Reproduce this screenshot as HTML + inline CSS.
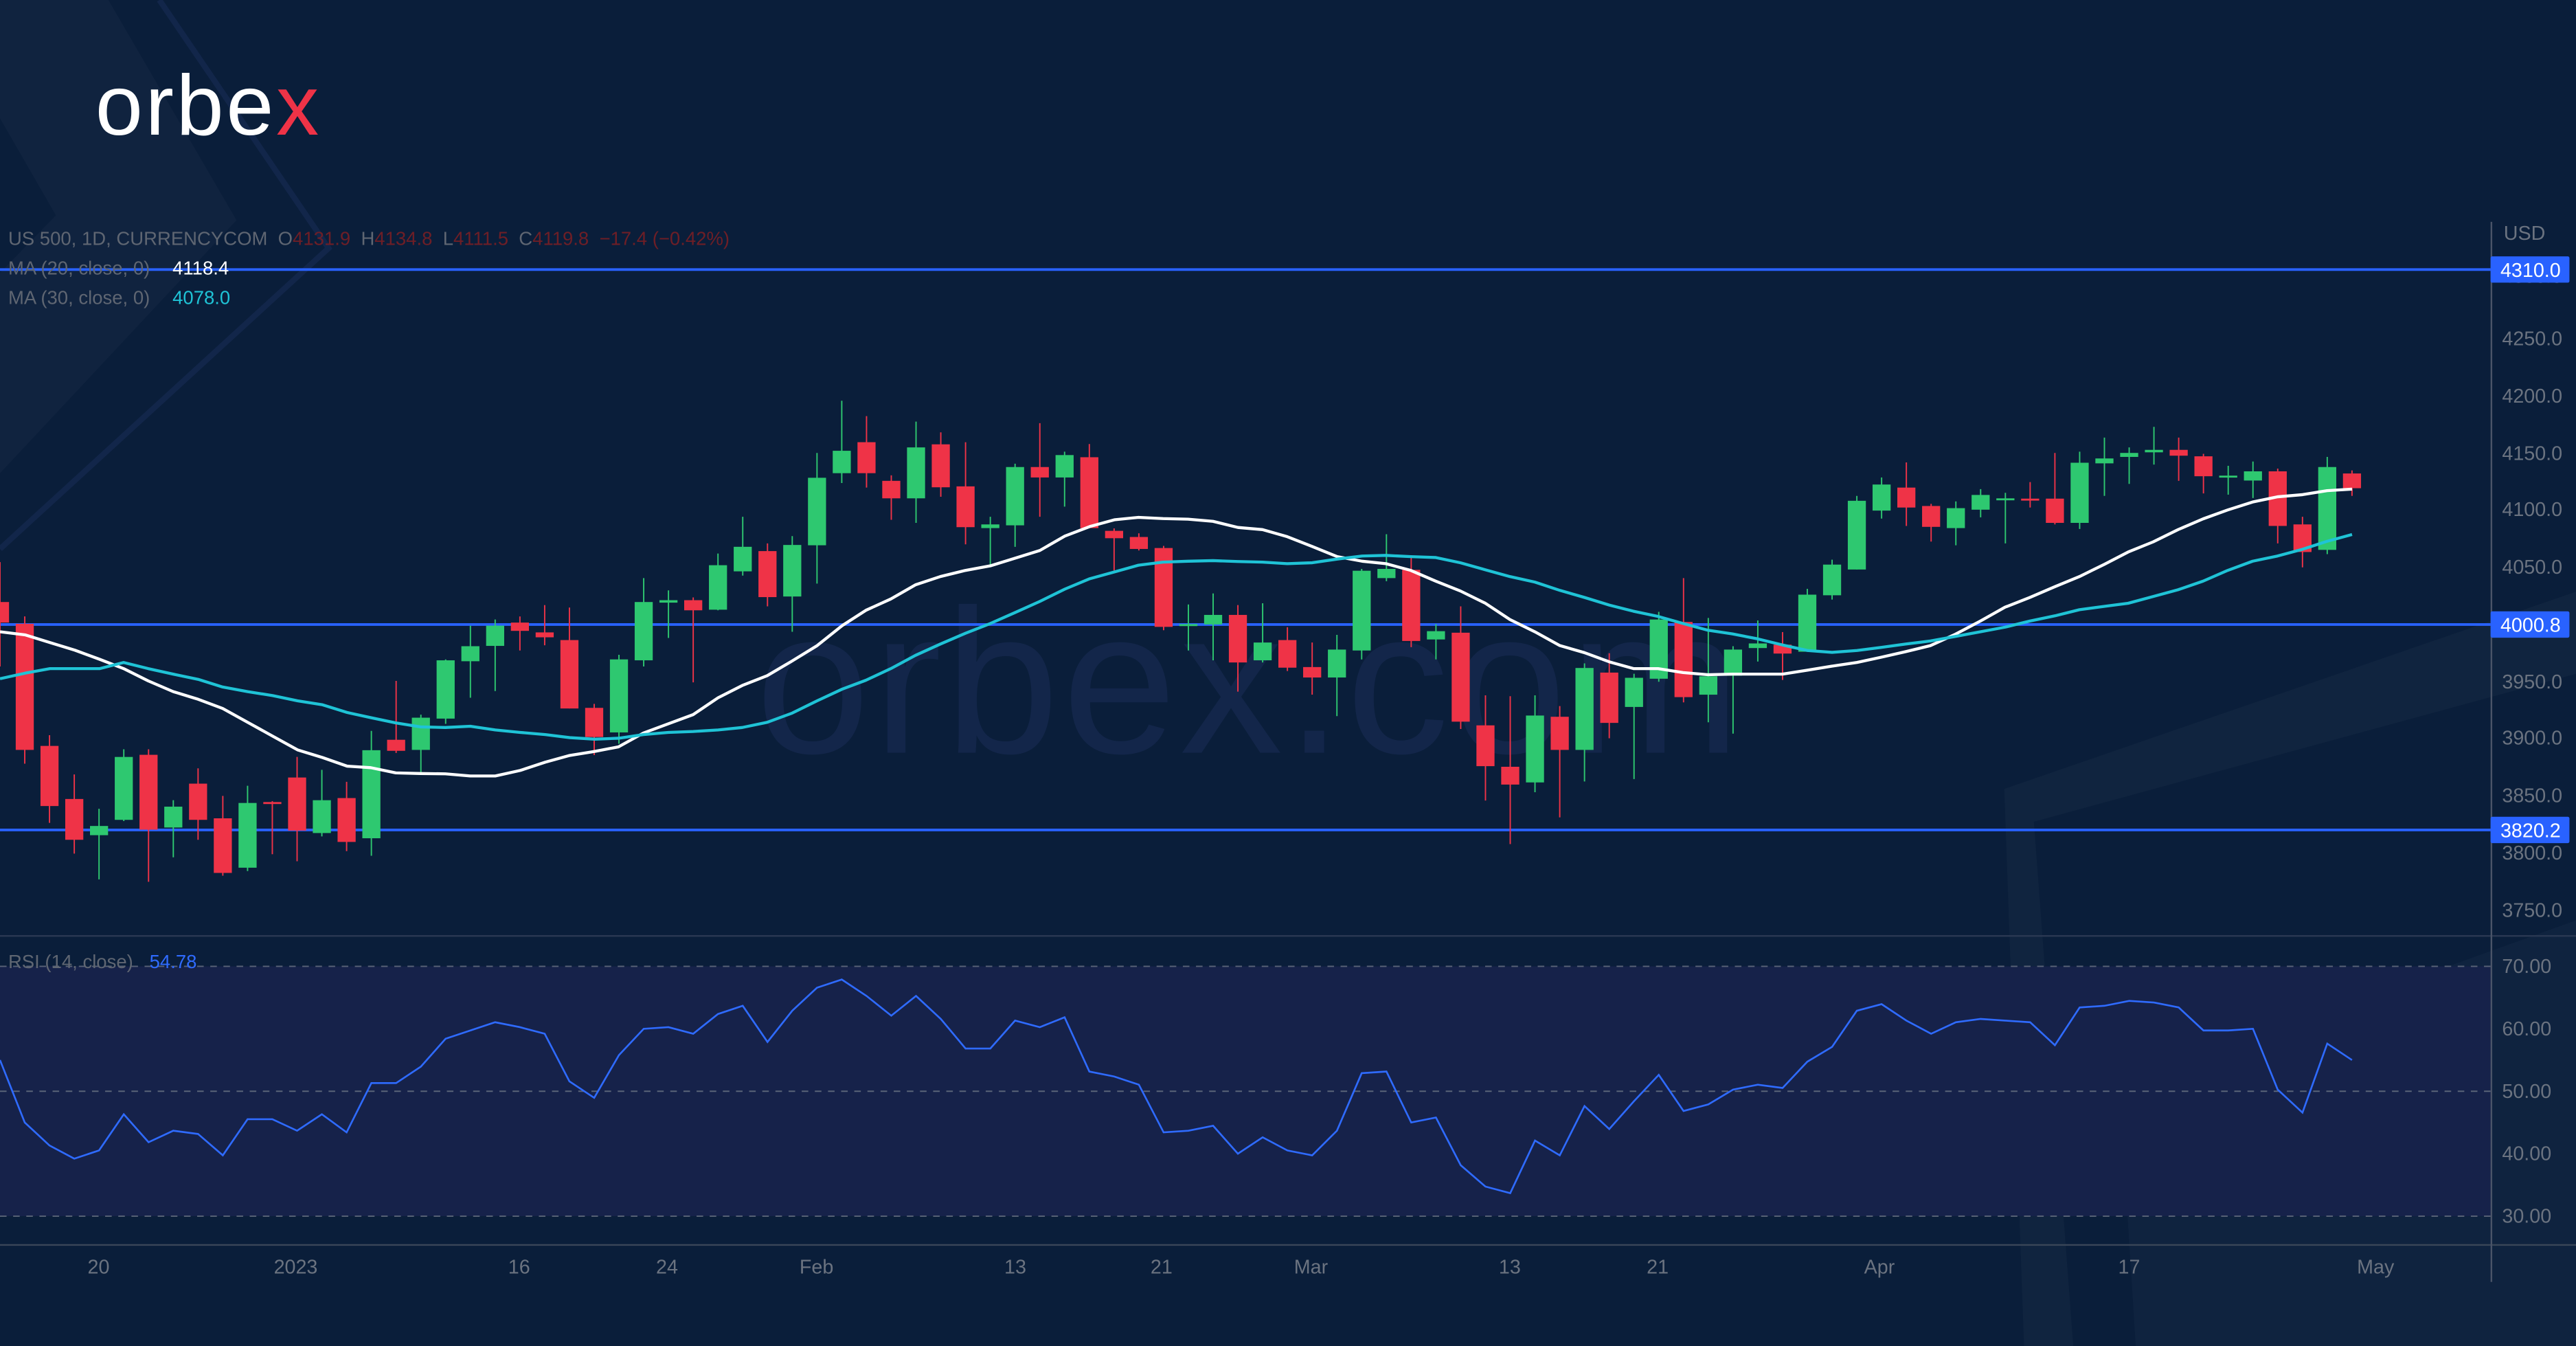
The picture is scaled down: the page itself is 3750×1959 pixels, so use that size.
<!DOCTYPE html>
<html><head><meta charset="utf-8"><style>
html,body{margin:0;padding:0;background:#0a1e3a;overflow:hidden}
svg{display:block}
text{font-family:"Liberation Sans",sans-serif}
</style></head><body>
<svg id="s" width="3750" height="1959" viewBox="0 0 1568 819" preserveAspectRatio="none" xmlns="http://www.w3.org/2000/svg">
<rect width="1568" height="819" fill="#0a1e3a"/>
<polygon points="0,0 66,0 144,134 0,288 0,166 34,131 0,72" fill="#10233f"/>
<polyline points="97,0 200,151 0,334" fill="none" stroke="#12264a" stroke-width="3.5"/>
<polygon points="1220,480 1568,360 1568,410 1238,500 1262,819 1232,819" fill="#10243f"/>
<polygon points="1290,660 1568,560 1568,819 1300,819" fill="#0f233f"/>
<text x="460" y="458" font-size="125" fill="#13264a" letter-spacing="2">orbex.com</text>
<text x="58" y="82" font-size="52" fill="#ffffff" letter-spacing="1.5">orbe<tspan fill="#ef3347">x</tspan></text>
<rect x="0" y="588" width="1516" height="152" fill="#16224a"/>
<g id="g"></g>
</svg>
<script>
const NS="http://www.w3.org/2000/svg",g=document.getElementById('g');
function el(t,a,txt){const e=document.createElementNS(NS,t);for(const k in a)e.setAttribute(k,a[k]);if(txt!=null)e.textContent=txt;g.appendChild(e);return e;}
const Y=z=>234.15+z/5.357, SP=15.07;
const C=[
['r',708,775,578,918],['r',779,1190,755,1235],['r',1177,1373,1142,1428],['r',1350,1483,1270,1528],['g',1438,1468,1382,1612],
['g',1213,1418,1188,1422],['r',1206,1450,1188,1620],['g',1375,1443,1354,1540],['r',1300,1418,1250,1483],['r',1413,1591,1340,1600],
['g',1363,1574,1307,1585],['r',1360,1366,1357,1530],['r',1280,1453,1213,1553],['g',1354,1461,1255,1472],['r',1347,1490,1294,1520],
['g',1191,1478,1128,1535],['r',1157,1193,965,1200],['g',1085,1190,1075,1267],['g',898,1088,895,1105],['g',852,901,785,1020],
['g',785,851,765,998],['r',775,802,755,866],['r',807,823,718,849],['r',832,1055,726,1055],['r',1053,1148,1040,1207],
['g',895,1133,880,1170],['g',708,898,630,918],['g',702,710,670,825],['r',702,735,693,970],['g',588,733,550,735],
['g',528,608,430,622],['r',542,692,517,722],['g',522,690,493,805],['g',303,523,222,648],['g',215,288,52,320],
['r',187,288,102,335],['r',313,370,295,440],['g',204,370,120,450],['r',194,334,155,365],['r',331,464,187,520],
['g',455,467,430,592],['g',268,458,257,528],['r',268,302,125,430],['g',229,302,218,397],['r',236,467,193,467],
['r',476,500,468,605],['r',496,535,484,540],['r',532,789,525,800],['g',780,784,716,866],['g',750,781,680,898],
['r',750,905,718,1000],['g',840,898,712,905],['r',832,922,790,933],['r',920,954,840,1010],['g',863,954,815,1080],
['g',606,866,600,895],['g',600,630,487,640],['r',603,835,557,855],['g',803,830,780,895],['r',808,1098,722,1122],
['r',1110,1243,1012,1355],['r',1245,1303,1015,1497],['g',1078,1296,1012,1328],['r',1082,1190,1047,1410],['g',923,1190,908,1293],
['r',938,1102,875,1152],['g',955,1050,942,1285],['g',765,958,740,968],['r',773,1018,630,1035],['g',950,1010,760,1100],
['g',863,948,852,1137],['g',843,858,768,902],['r',847,876,806,962],['g',684,870,665,870],['g',586,686,570,700],
['g',378,602,362,602],['g',325,410,302,436],['r',335,400,253,460],['r',395,463,388,511],['g',402,467,380,523],
['g',359,407,340,432],['g',370,372,352,517],['r',371,377,317,400],['r',371,450,222,455],['g',254,450,218,470],
['g',240,256,172,362],['g',222,235,204,323],['g',212,220,137,260],['r',212,231,172,313],['r',233,298,225,354],
['g',296,300,264,358],['g',282,312,250,369],['r',282,460,273,517],['r',455,545,430,595],['g',268,538,235,552],['r',289,337,279,362]];
[[164],[380],[505]].forEach(l=>el('line',{x1:0,x2:1516,y1:l[0],y2:l[0],stroke:'#2962ff','stroke-width':1.6}));
C.forEach((c,i)=>{const x=i*SP,col=c[0]=='g'?'#2ec870':'#ef3347';
 el('line',{x1:x,x2:x,y1:Y(c[3]),y2:Y(c[4]),stroke:col,'stroke-width':0.8});
 const t=Y(c[1]),b=Y(c[2]);el('rect',{x:x-5.5,y:t,width:11,height:Math.max(1.2,b-t),fill:col});});
function line(segs,col){let pts=[];segs.forEach((s,k)=>{const off=[0,900,1800,2700][k];
 for(let j=0;j<s.length;j+=2){const ax=(off+s[j]/1.6505)/2.3916;if(pts.length&&ax<=pts[pts.length-1][0]+1)continue;pts.push([ax,Y(s[j+1])]);}});
 el('polyline',{points:pts.map(p=>p.join(',')).join(' '),fill:'none',stroke:col,'stroke-width':1.8,'stroke-linejoin':'round'});}
line([[0,805,60,815,120,840,180,865,240,895,297,925,356,965,416,1000,476,1025,535,1055,595,1100,655,1145,715,1190,775,1215,834,1243,891,1248,951,1265,1010,1267,1070,1268,1130,1275,1190,1275,1250,1257,1310,1230,1369,1208,1429,1195,1486,1180,1546,1135],
[0,1180,60,1140,120,1105,180,1075,240,1020,298,980,358,948,418,900,478,850,538,785,595,735,655,698,714,652,774,625,834,605,894,590,954,565,1013,540,1073,493,1133,462,1192,440,1250,432,1309,436,1369,438,1429,445,1489,465,1548,472],
[0,465,63,473,122,495,182,527,242,560,302,575,359,583,419,605,479,640,538,672,598,712,657,765,717,805,777,850,836,873,896,903,954,925,1013,925,1073,938,1133,945,1192,943,1252,943,1312,943,1372,930,1431,917,1491,905,1549,888],
[0,905,63,890,122,870,182,850,242,813,302,770,361,725,421,693,481,658,540,625,600,585,657,545,717,512,777,472,837,437,896,408,956,382,1016,365,1076,358,1135,345,1195,340]],'#ffffff');
line([[0,958,60,940,120,925,180,925,240,925,297,905,356,925,416,943,476,960,535,985,595,1000,655,1013,715,1030,775,1043,834,1068,891,1085,951,1102,1010,1115,1070,1117,1130,1113,1190,1125,1250,1133,1310,1140,1369,1150,1429,1155,1486,1152,1546,1140],
[0,1150,60,1140,120,1133,180,1130,240,1125,298,1117,358,1100,418,1070,478,1030,538,992,595,963,655,925,714,882,774,845,834,810,894,778,954,742,1013,706,1073,666,1133,632,1192,610,1250,588,1309,578,1369,575,1429,573,1489,576,1548,578],
[0,575,63,580,122,583,182,580,242,568,302,558,359,556,419,560,479,563,538,580,598,603,657,625,717,643,777,670,836,693,896,718,954,738,1013,755,1073,778,1133,800,1192,812,1252,828,1312,848,1372,866,1431,872,1491,866,1549,856],
[0,868,63,860,122,845,182,835,242,820,302,805,361,790,421,770,481,753,540,733,600,722,657,712,717,690,777,668,837,640,896,605,956,575,1016,558,1076,536,1135,510,1195,488]],'#1fc3d6');
[588,664,740].forEach(y=>el('line',{x1:0,x2:1516,y1:y,y2:y,stroke:'#5a6478','stroke-width':0.8,'stroke-dasharray':'4 4'}));
const R=[645,683,697,705,700,678,695,688,690,703,681,681,688,678,689,659,659,649,632,627,622,625,629,658,668,642,626,625,629,617,612,634,615,601,596,606,618,606,620,638,638,621,625,619,652,655,660,689,688,685,702,692,700,703,688,653,652,683,680,709,722,726,694,703,673,687,670,654,676,672,663,660,662,646,637,615,611,621,629,622,620,621,622,636,613,612,609,610,613,627,627,626,663,677,635,645];
el('polyline',{points:R.map((y,i)=>(i*SP)+','+y).join(' '),fill:'none',stroke:'#2f6bff','stroke-width':1.1});
el('line',{x1:0,x2:1568,y1:569.5,y2:569.5,stroke:'#2a3852','stroke-width':1});
el('line',{x1:0,x2:1568,y1:757.5,y2:757.5,stroke:'#3a4658','stroke-width':1});
el('line',{x1:1516.5,x2:1516.5,y1:135,y2:780,stroke:'#4a5468','stroke-width':1});
const ax={fill:'#6b7380','font-size':12};
el('text',Object.assign({x:1524,y:146},ax),'USD');
[[4250,206],[4200,241],[4150,276],[4100,310],[4050,345],[3950,415],[3900,449],[3850,484],[3800,519],[3750,554]].forEach(t=>el('text',Object.assign({x:1523,y:t[1]+4},ax),t[0]+'.0'));
el('text',Object.assign({x:1523,y:172},ax),'4300.0');
[[70,588],[60,626],[50,664],[40,702],[30,740]].forEach(t=>el('text',Object.assign({x:1523,y:t[1]+4},ax),t[0]+'.00'));
[[164,'4310.0'],[380,'4000.8'],[505,'3820.2']].forEach(l=>{el('rect',{x:1516,y:l[0]-8,width:48,height:16,fill:'#2962ff',rx:1});el('text',{x:1522,y:l[0]+4.5,fill:'#fff','font-size':12},l[1]);});
[[60,'20'],[180,'2023'],[316,'16'],[406,'24'],[497,'Feb'],[618,'13'],[707,'21'],[798,'Mar'],[919,'13'],[1009,'21'],[1144,'Apr'],[1296,'17'],[1446,'May']].forEach(d=>el('text',Object.assign({x:d[0],y:775,'text-anchor':'middle'},ax),d[1]));
const h=el('text',{x:5,y:149,'font-size':11.5,fill:'#5f6672'});
h.innerHTML='US 500, 1D, CURRENCYCOM  O<tspan fill="#6e1e26">4131.9</tspan>  H<tspan fill="#6e1e26">4134.8</tspan>  L<tspan fill="#6e1e26">4111.5</tspan>  C<tspan fill="#6e1e26">4119.8  −17.4 (−0.42%)</tspan>';
h.style.whiteSpace='pre';
el('text',{x:5,y:167,'font-size':11.5,fill:'#5f6672'},'MA (20, close, 0)');
el('text',{x:105,y:167,'font-size':11.5,fill:'#ffffff'},'4118.4');
el('text',{x:5,y:185,'font-size':11.5,fill:'#5f6672'},'MA (30, close, 0)');
el('text',{x:105,y:185,'font-size':11.5,fill:'#1fc3d6'},'4078.0');
el('text',{x:5,y:589,'font-size':11.5,fill:'#5f6672'},'RSI (14, close)');
el('text',{x:91,y:589,'font-size':11.5,fill:'#2f6bff'},'54.78');
</script>
</body></html>
